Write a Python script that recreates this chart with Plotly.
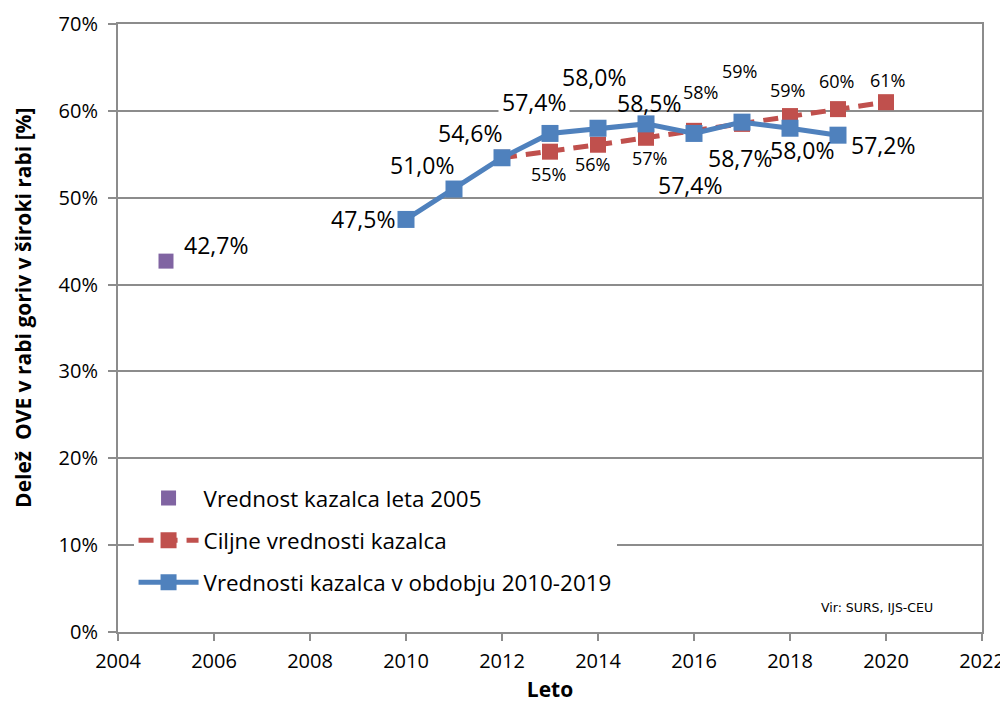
import plotly.graph_objects as go

# ---- data ----
year_2005 = [2005]
value_2005 = [42.7]
label_2005 = ["42,7%"]

years_actual = [2010, 2011, 2012, 2013, 2014, 2015, 2016, 2017, 2018, 2019]
values_actual = [47.5, 51.0, 54.6, 57.4, 58.0, 58.5, 57.4, 58.7, 58.0, 57.2]
labels_actual = ["47,5%", "51,0%", "54,6%", "57,4%", "58,0%", "58,5%", "57,4%", "58,7%", "58,0%", "57,2%"]

years_target = [2012, 2013, 2014, 2015, 2016, 2017, 2018, 2019, 2020]
values_target = [54.6, 55.3, 56.1, 56.9, 57.7, 58.5, 59.4, 60.2, 61.0]
labels_target = [None, "55%", "56%", "57%", "58%", "59%", "59%", "60%", "61%"]

x_ticks = [2004, 2006, 2008, 2010, 2012, 2014, 2016, 2018, 2020, 2022]
y_ticks = [0, 10, 20, 30, 40, 50, 60, 70]
y_tick_labels = ["0%", "10%", "20%", "30%", "40%", "50%", "60%", "70%"]

names = ["Vrednost kazalca leta 2005", "Ciljne vrednosti kazalca", "Vrednosti kazalca v obdobju 2010-2019"]
y_title = "<b>Delež  OVE v rabi goriv v široki rabi [%]</b>"
x_title = "<b>Leto</b>"
source = "Vir: SURS, IJS-CEU"

# label offsets (pixels) for data labels
off_actual = [(-43, 0), (-32, 24), (-32, 25), (-16, 31), (-4, 51), (3, 21), (-4, -52), (-2, -36), (12, -22), (45, -10)]
off_target = [None, (-2, -22), (-6, -19), (3, -20), (6, 39), (-3, 53), (-3, 26), (-2, 28), (1, 22)]
off_2005 = [(50, 16)]

BLUE = "#4F81BD"
RED = "#C0504D"
PURPLE = "#8064A2"
GRID = "#8C8C8C"
FONT = "Open Sans"

fig = go.Figure()
fig.add_trace(go.Scatter(
    x=year_2005, y=value_2005, mode="markers", name=names[0], legendgroup="a",
    marker=dict(symbol="square", size=15, color=PURPLE),
))
fig.add_trace(go.Scatter(
    x=years_target, y=values_target, mode="lines+markers", name=names[1], legendgroup="b",
    line=dict(color=RED, width=5, dash="15px,9px"),
    marker=dict(symbol="square", size=16, color=RED),
))
fig.add_trace(go.Scatter(
    x=years_actual, y=values_actual, mode="lines+markers", name=names[2], legendgroup="c",
    line=dict(color=BLUE, width=5),
    marker=dict(symbol="square", size=17, color=BLUE),
))

annotations = []
for x, y, t, (dx, dy) in zip(year_2005, value_2005, label_2005, off_2005):
    annotations.append(dict(x=x, y=y, text=t, showarrow=False, xshift=dx, yshift=dy,
                            font=dict(family=FONT, size=23, color="#000")))
for x, y, t, o in zip(years_actual, values_actual, labels_actual, off_actual):
    a = dict(x=x, y=y, text=t, showarrow=False, xshift=o[0], yshift=o[1],
             font=dict(family=FONT, size=23, color="#000"))
    if x == 2013:
        a.update(bgcolor="white", borderpad=3)
    annotations.append(a)
for x, y, t, o in zip(years_target, values_target, labels_target, off_target):
    if t is None:
        continue
    annotations.append(dict(x=x, y=y, text=t, showarrow=False, xshift=o[0], yshift=o[1],
                            font=dict(family=FONT, size=18, color="#000")))
annotations.append(dict(xref="paper", yref="paper", x=0.9456, y=0.041, xanchor="right", yanchor="middle",
                        text=source, showarrow=False,
                        font=dict(family="DejaVu Sans", size=12.5, color="#000")))
annotations.append(dict(xref="paper", yref="paper", x=-0.11, y=0.533, xanchor="center", yanchor="middle",
                        text=y_title, textangle=-90, showarrow=False,
                        font=dict(family=FONT, size=21, color="#000")))

fig.update_layout(
    width=1000, height=695,
    margin=dict(l=110, r=26, t=16, b=71),
    paper_bgcolor="white", plot_bgcolor="white",
    showlegend=True,
    legend=dict(x=0.018, y=0.255, xanchor="left", yanchor="top",
                bgcolor="white", font=dict(family=FONT, size=22.4, color="#000"),
                itemwidth=60, tracegroupgap=10, traceorder="grouped", entrywidth=410),
    annotations=annotations,
    xaxis=dict(range=[2004, 2022], tickvals=x_ticks, showgrid=False, automargin=False,
               showline=True, linecolor=GRID, linewidth=2, mirror=True,
               ticks="outside", ticklen=7, tickcolor=GRID, tickwidth=1.5, ticklabelstandoff=3,
               tickfont=dict(family=FONT, size=20, color="#000"),
               title=dict(text=x_title, font=dict(family=FONT, size=21, color="#000"), standoff=17),
               zeroline=False),
    yaxis=dict(range=[0, 70], tickvals=y_ticks, ticktext=y_tick_labels, automargin=False,
               showgrid=True, gridcolor=GRID, gridwidth=1.5,
               showline=True, linecolor=GRID, linewidth=2, mirror=True,
               ticks="outside", ticklen=8, tickcolor=GRID, tickwidth=1.5, ticklabelstandoff=6,
               tickfont=dict(family=FONT, size=20, color="#000"),
               zeroline=False),
)

fig.write_html("out.html")
